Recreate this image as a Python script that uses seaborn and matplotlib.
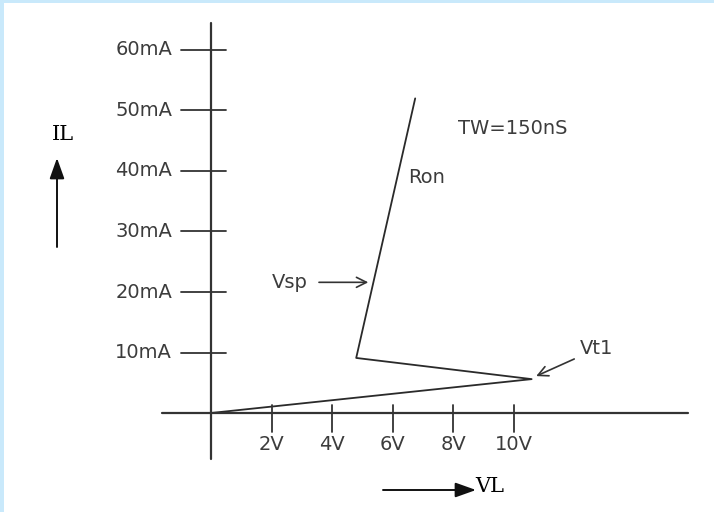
import numpy as np
import pandas as pd
import seaborn as sns
from matplotlib import pyplot as plt
from matplotlib.patches import Rectangle

# snapback I-V curve (V in volts, I in mA)
curve_v = [0.0, 10.6, 4.8, 6.75]
curve_i = [0.0, 5.6, 9.1, 52.0]

x_ticks = [2, 4, 6, 8, 10]
x_labels = ["2V", "4V", "6V", "8V", "10V"]
y_ticks = [10, 20, 30, 40, 50, 60]
y_labels = ["10mA", "20mA", "30mA", "40mA", "50mA", "60mA"]

sns.set_style("white")
plt.rcParams['font.family'] = ['DejaVu Sans']

fig = plt.figure(figsize=(7.14, 5.12), dpi=100)
fig.patch.set_facecolor("#c9e9fb")
# white panel, light blue strip on left and top
fig.patches.append(Rectangle((4 / 714, 0), 710 / 714, 509 / 512, transform=fig.transFigure,
                             facecolor="white", edgecolor="none", zorder=-10))
ax = fig.add_axes([4 / 714, 0, 710 / 714, 509 / 512])
ax.set_zorder(1)

# pixel mapping: x = 211 + 30.25*V, y_top = 413 - 6.05*I
x_left = (4 - 211) / 30.25
x_right = (714 - 211) / 30.25
y_bot = (413 - 512) / 6.05
y_top = (413 - 3) / 6.05

dark = "#333333"
txt = "#3c3c3c"
fs = 14

df = pd.DataFrame({"V": curve_v, "I": curve_i})
sns.lineplot(data=df, x="V", y="I", sort=False, color="#2a2a2a", lw=1.3, ax=ax)
ax.set_xlim(x_left, x_right)
ax.set_ylim(y_bot, y_top)
ax.set_axis_off()

# axes lines
ax.plot([(162 - 211) / 30.25, (688 - 211) / 30.25], [0, 0], color=dark, lw=1.6)
ax.plot([0, 0], [(413 - 459) / 6.05, (413 - 23) / 6.05], color=dark, lw=1.6)

# ticks and labels
for v, lab in zip(x_ticks, x_labels):
    ax.plot([v, v], [8 / 6.05, -19 / 6.05], color=dark, lw=1.3)
    ax.text(v, -32 / 6.05, lab, ha="center", va="center", fontsize=fs, color=txt)
for i, lab in zip(y_ticks, y_labels):
    ax.plot([-30 / 30.25, 15 / 30.25], [i, i], color=dark, lw=1.3)
    ax.text(-39 / 30.25, i, lab, ha="right", va="center", fontsize=fs, color=txt)

# annotations
ax.annotate("Vsp", xy=(5.2, 21.6), xytext=(2.0, 21.6), ha="left", va="center",
            fontsize=fs, color=txt,
            arrowprops=dict(arrowstyle="->", color=dark, lw=1.2,
                            shrinkA=6, shrinkB=0, mutation_scale=18))
ax.annotate("Vt1", xy=(10.75, 6.1), xytext=(12.2, 10.6), ha="left", va="center",
            fontsize=fs, color=txt,
            arrowprops=dict(arrowstyle="->", color=dark, lw=1.2,
                            shrinkA=2, shrinkB=0, mutation_scale=18))
ax.text(6.5, 38.9, "Ron", ha="left", va="center", fontsize=fs, color=txt)
ax.text(8.17, 47.1, "TW=150nS", ha="left", va="center", fontsize=fs, color=txt)

# axis name arrows
head = "-|>,head_length=0.7,head_width=0.25"
ax.annotate("", xy=((57 - 211) / 30.25, (413 - 158) / 6.05),
            xytext=((57 - 211) / 30.25, (413 - 247) / 6.05),
            arrowprops=dict(arrowstyle=head, color="#111111", lw=1.4, mutation_scale=18,
                            shrinkA=0, shrinkB=0))
ax.text((63 - 211) / 30.25, (413 - 135) / 6.05, "IL", ha="center", va="center",
        fontsize=15, color="black", family="DejaVu Serif")
ax.annotate("", xy=((476 - 211) / 30.25, (413 - 490) / 6.05),
            xytext=((383 - 211) / 30.25, (413 - 490) / 6.05),
            arrowprops=dict(arrowstyle=head, color="#111111", lw=1.4, mutation_scale=18,
                            shrinkA=0, shrinkB=0))
ax.text((475 - 211) / 30.25, (413 - 486) / 6.05, "VL", ha="left", va="center",
        fontsize=15, color="black", family="DejaVu Serif")

fig.savefig("out.png", dpi=100, facecolor=fig.get_facecolor())
